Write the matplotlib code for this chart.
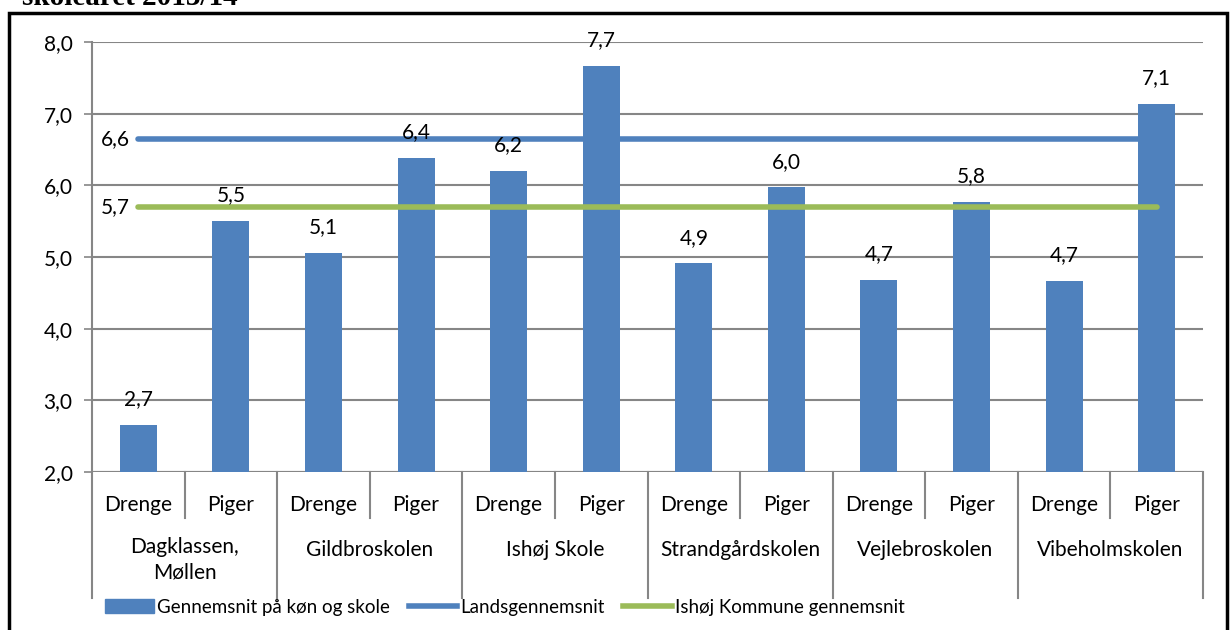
import matplotlib.pyplot as plt
from matplotlib.patches import Patch, Rectangle
from matplotlib.lines import Line2D

plt.rcParams['font.family'] = ['Lato', 'DejaVu Sans']

# Data
schools = ['Dagklassen,\nMøllen', 'Gildbroskolen', 'Ishøj Skole',
           'Strandgårdskolen', 'Vejlebroskolen', 'Vibeholmskolen']
genders = ['Drenge', 'Piger']
averages = [2.66, 5.50, 5.06, 6.38, 6.20, 7.67, 4.91, 5.97, 4.68, 5.77, 4.67, 7.14]
national = 6.64
municipal = 5.70

bar_color = '#4F81BD'
green = '#9BBB59'
grid_color = '#868686'

fig = plt.figure(figsize=(12.3, 6.3), dpi=100)
ax = fig.add_axes([92 / 1230, 1 - 472 / 630, 1111 / 1230, 430 / 630])

n = len(averages)
x = list(range(n))
ax.bar(x, averages, width=0.4, color=bar_color, zorder=3)
ax.plot([0, n - 1], [national, national], color=bar_color, lw=4, solid_capstyle='round', zorder=4)
ax.plot([0, n - 1], [municipal, municipal], color=green, lw=4, solid_capstyle='round', zorder=4)

fs = 15
for xi, v in zip(x, averages):
    ax.annotate(f'{v:.1f}'.replace('.', ','), (xi, v), xytext=(0, 18.5), textcoords='offset points',
                ha='center', va='center', fontsize=fs, zorder=5)
for v in (national, municipal):
    ax.annotate(f'{v:.1f}'.replace('.', ','), (0, v), xytext=(-6, 0), textcoords='offset points',
                ha='right', va='center', fontsize=fs)

ax.set_xlim(-0.5, n - 0.5)
ax.set_ylim(2, 8)
ax.set_yticks([2, 3, 4, 5, 6, 7, 8])
ax.set_yticklabels([f'{t:.1f}'.replace('.', ',') for t in [2, 3, 4, 5, 6, 7, 8]], fontsize=fs)
ax.tick_params(axis='y', length=6, color=grid_color, width=1.2, pad=8)
ax.set_xticks([])
ax.grid(axis='y', color=grid_color, lw=1.5, zorder=0)
for s in ['top', 'right', 'bottom']:
    ax.spines[s].set_visible(False)
ax.spines['left'].set_color(grid_color)
ax.spines['left'].set_linewidth(1.5)

# category axis
tr = ax.get_xaxis_transform()
h = 430
for i in range(n):
    ax.text(i, -(505 - 472) / h, genders[i % 2], transform=tr, ha='center', va='center', fontsize=fs)
for i in range(1, n):
    y1 = -(598 - 472) / h if i % 2 == 0 else -(518 - 472) / h
    ax.plot([i - 0.5, i - 0.5], [0, y1], transform=tr, color=grid_color, lw=1.5, clip_on=False)
ax.plot([-0.5, -0.5], [0, -(598 - 472) / h], transform=tr, color=grid_color, lw=1.5, clip_on=False)
ax.plot([n - 0.5, n - 0.5], [0, -(598 - 472) / h], transform=tr, color=grid_color, lw=1.5, clip_on=False)
for j, s in enumerate(schools):
    ax.text(2 * j + 0.5, -(537 - 472) / h if '\n' in s else -(550 - 472) / h, s, transform=tr,
            ha='center', va='top' if '\n' in s else 'center', fontsize=fs, linespacing=1.35)
ax.axhline(2, color=grid_color, lw=1.5, zorder=1)

handles = [Patch(color=bar_color), Line2D([], [], color=bar_color, lw=4),
           Line2D([], [], color=green, lw=4)]
labels = ['Gennemsnit på køn og skole', 'Landsgennemsnit', 'Ishøj Kommune gennemsnit']
fig.legend(handles, labels, loc='center', bbox_to_anchor=(505 / 1230, 1 - 607 / 630), ncol=3,
           frameon=False, fontsize=13.5, handlelength=2.6, handletextpad=0.15, columnspacing=1.0)

# outer frame and clipped title
fig.patches.append(Rectangle((9 / 1230, -0.1), 1218 / 1230, 1.1 - 13 / 630, transform=fig.transFigure,
                             fill=False, edgecolor='black', lw=2.5))
fig.text(22 / 1230, 1 - 5 / 630, 'skoleåret 2013/14', family='Liberation Serif', weight='bold',
         fontsize=21, ha='left', va='baseline')

fig.savefig('out.png')
